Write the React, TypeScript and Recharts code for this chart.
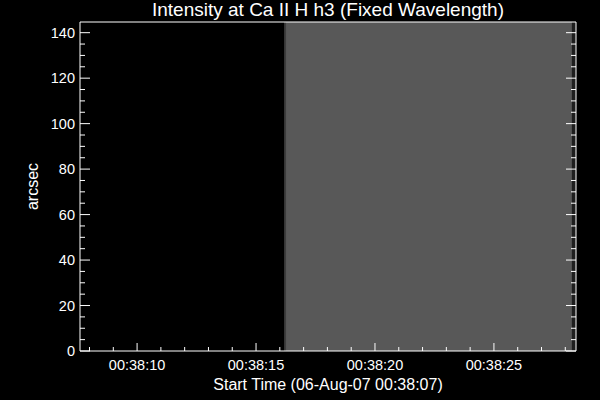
import React from "react";
import { ComposedChart, XAxis, YAxis, ReferenceArea } from "recharts";

// image columns: start/end in seconds after 00:38:00, grey level of each
const colStart = [7.6, 16.18, 16.26, 28.28];
const colEnd = [16.18, 16.26, 28.28, 28.45];
const colLevel = ["#000000", "#3c3c3c", "#585858", "#1e1e1e"];

const arcsecTop = 144.7;
const yTicks = Array.from({ length: 29 }, (_, i) => i * 5);
const yLabelled = [0, 20, 40, 60, 80, 100, 120, 140];
const xTicks = [8, 9, 10, 11, 12, 13, 14, 15, 16, 17, 18, 19, 20, 21, 22, 23, 24, 25, 26, 27, 28];
const xLabelled = [10, 15, 20, 25];

const FONT = "'Liberation Sans', Arial, sans-serif";
const WHITE = "#ffffff";

const fmtTime = (s: number) => `00:38:${String(s).padStart(2, "0")}`;

function LeftTick(props: any) {
  const { x, y, payload } = props;
  const major = yLabelled.includes(payload.value);
  return (
    <g>
      <line x1={x} x2={x + (major ? 10 : 5)} y1={y} y2={y} stroke={WHITE} />
      {major && (
        <text x={x - 5} y={y + 5} textAnchor="end" fill={WHITE} fontSize={14.5} fontFamily={FONT}>
          {payload.value}
        </text>
      )}
    </g>
  );
}

function RightTick(props: any) {
  const { x, y, payload } = props;
  const major = yLabelled.includes(payload.value);
  return <line x1={x} x2={x - (major ? 10 : 5)} y1={y} y2={y} stroke={WHITE} />;
}

function BottomTick(props: any) {
  const { x, y, payload } = props;
  const major = xLabelled.includes(payload.value);
  return (
    <g>
      <line x1={x} x2={x} y1={y} y2={y - (major ? 8 : 4)} stroke={WHITE} />
      {major && (
        <text x={x} y={y + 19} textAnchor="middle" fill={WHITE} fontSize={14.5} fontFamily={FONT}>
          {fmtTime(payload.value)}
        </text>
      )}
    </g>
  );
}

function TopTick(props: any) {
  const { x, y, payload } = props;
  const major = xLabelled.includes(payload.value);
  return <line x1={x} x2={x} y1={y} y2={y + (major ? 8 : 4)} stroke={WHITE} />;
}

export default function App() {
  const segs = colStart.map((s, i) => ({ t0: s, t1: colEnd[i], fill: colLevel[i] }));
  return (
    <div style={{ position: "absolute", left: 0, top: 0, width: 600, height: 400, background: "#000" }}>
      <div
        style={{
          position: "absolute",
          left: 0,
          width: 656,
          top: -1,
          textAlign: "center",
          color: WHITE,
          fontFamily: FONT,
          fontSize: 19,
        }}
      >
        Intensity at Ca II H h3 (Fixed Wavelength)
      </div>
      <ComposedChart width={600} height={400} data={segs} margin={{ top: 0, right: 0, bottom: 0, left: 0 }}>
        <XAxis
          xAxisId="b"
          type="number"
          dataKey="t0"
          domain={[7.6, 28.45]}
          ticks={xTicks}
          interval={0}
          allowDataOverflow
          height={49}
          tickSize={0}
          tickMargin={0}
          tick={<BottomTick />}
          axisLine={{ stroke: WHITE }}
          label={{ value: "Start Time (06-Aug-07 00:38:07)", position: "insideBottom", offset: 10, fill: WHITE, fontSize: 16, fontFamily: FONT }}
        />
        <XAxis
          xAxisId="t"
          orientation="top"
          type="number"
          domain={[7.6, 28.45]}
          ticks={xTicks}
          interval={0}
          allowDataOverflow
          height={22}
          tickSize={0}
          tickMargin={0}
          tick={<TopTick />}
          axisLine={{ stroke: WHITE }}
        />
        <YAxis
          yAxisId="l"
          type="number"
          domain={[0, arcsecTop]}
          ticks={yTicks}
          interval={0}
          allowDataOverflow
          width={80}
          tickSize={0}
          tickMargin={0}
          tick={<LeftTick />}
          axisLine={{ stroke: WHITE }}
          label={{ value: "arcsec", angle: -90, position: "insideLeft", offset: 32, fill: WHITE, fontSize: 16, fontFamily: FONT, style: { textAnchor: "middle" } }}
        />
        <YAxis
          yAxisId="r"
          orientation="right"
          type="number"
          domain={[0, arcsecTop]}
          ticks={yTicks}
          interval={0}
          allowDataOverflow
          width={24}
          tickSize={0}
          tickMargin={0}
          tick={<RightTick />}
          axisLine={{ stroke: WHITE }}
        />
        {segs.map((s, i) => (
          <ReferenceArea
            key={i}
            xAxisId="b"
            yAxisId="l"
            x1={s.t0}
            x2={s.t1}
            y1={0}
            y2={arcsecTop}
            fill={s.fill}
            fillOpacity={1}
            stroke="none"
            ifOverflow="hidden"
          />
        ))}
      </ComposedChart>
    </div>
  );
}
